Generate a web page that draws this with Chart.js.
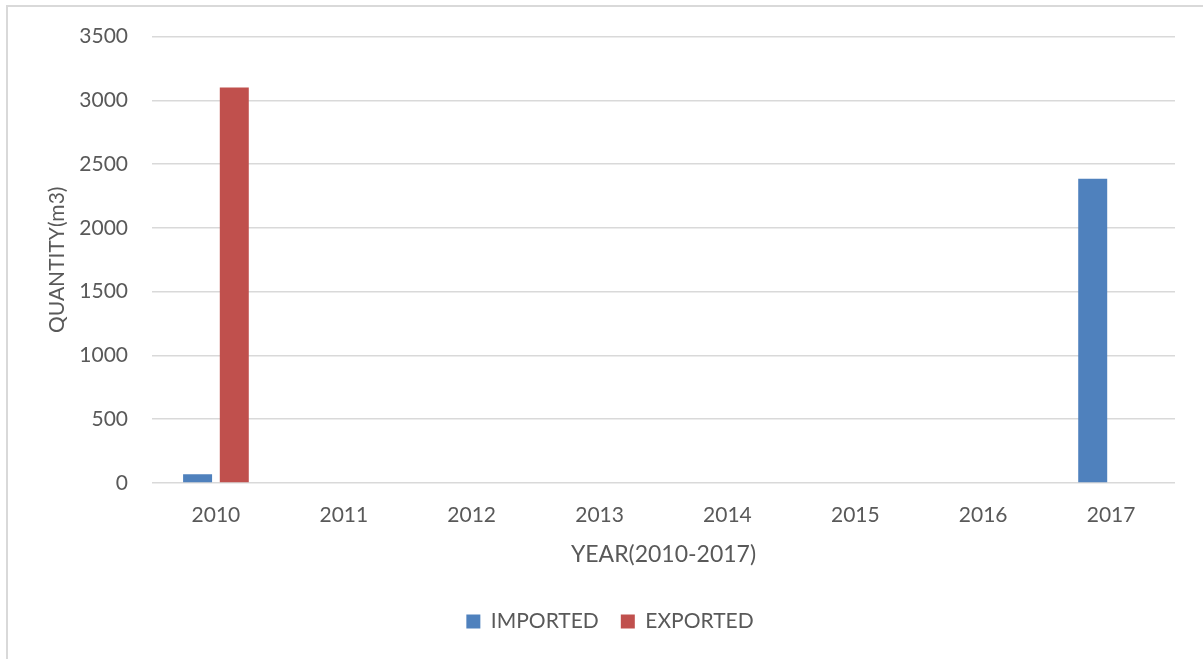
<!DOCTYPE html>
<html>
<head>
<meta charset="utf-8">
<title>Imported and exported quantity 2010-2017</title>
<script src="https://cdn.jsdelivr.net/npm/chart.js@4.4.0/dist/chart.umd.min.js"></script>
<style>
  html, body { margin: 0; padding: 0; background: #ffffff; }
  #wrap { position: relative; width: 1203px; height: 659px; overflow: hidden; }
  #frame {
    position: absolute; left: 6px; top: 5px; width: 1300px; height: 700px;
    border-top: 2px solid #d9d9d9; border-left: 2px solid #d9d9d9;
  }
  #myChart { position: absolute; left: 0; top: 0; }
</style>
</head>
<body>
<div id="wrap">
  <div id="frame"></div>
  <canvas id="myChart" width="1203" height="659"></canvas>
</div>
<script>
(function() {

    const years = ['2010', '2011', '2012', '2013', '2014', '2015', '2016', '2017'];
    const imported = [68, 0, 0, 0, 0, 0, 0, 2385];
    const exported = [3100, 0, 0, 0, 0, 0, 0, 0];

    const yTicks = [0, 500, 1000, 1500, 2000, 2500, 3000, 3500];

    const textColor = '#595959';
    const gridColor = '#d9d9d9';
    const family = 'Lato, "Open Sans", sans-serif';

    const data = {
        labels: years,
        datasets: [{
            label: 'IMPORTED',
            data: imported,
            backgroundColor: '#4f81bd',
            borderWidth: 0,
            categoryPercentage: 0.574,
            barPercentage: 0.79
        }, {
            label: 'EXPORTED',
            data: exported,
            backgroundColor: '#c0504d',
            borderWidth: 0,
            categoryPercentage: 0.574,
            barPercentage: 0.79
        }]
    };

    const myChart = new Chart(
        document.getElementById('myChart'),
        {
            type: 'bar',
            data: data,
            options: {
                responsive: false,
                animation: false,
                layout: {
                    // left padding also pushes the legend centre to the right
                    padding: { left: 45, right: 28, top: 30, bottom: 17 }
                },
                scales: {
                    x: {
                        grid: { display: false, drawTicks: false },
                        border: { display: false },
                        ticks: {
                            color: textColor,
                            font: { family: family, size: 21 },
                            padding: 20,
                            maxRotation: 0
                        },
                        title: {
                            display: true,
                            text: 'YEAR(2010-2017)',
                            color: textColor,
                            font: { family: family, size: 23 },
                            padding: { top: 0, bottom: 21 }
                        },
                        afterFit: function(scale) { scale.height = 106; }
                    },
                    y: {
                        min: 0,
                        max: 3500,
                        grid: {
                            color: gridColor,
                            lineWidth: 1.5,
                            drawTicks: false
                        },
                        border: { display: false },
                        afterBuildTicks: function(scale) {
                            scale.ticks = yTicks.map(function(v) { return { value: v }; });
                        },
                        ticks: {
                            color: textColor,
                            font: { family: family, size: 21 },
                            padding: 24,
                            callback: function(value) { return String(value); }
                        },
                        title: {
                            display: true,
                            text: 'QUANTITY(m3)',
                            color: textColor,
                            font: { family: family, size: 21 },
                            padding: { top: 0, bottom: 0 }
                        },
                        afterFit: function(scale) { scale.width = 107; }
                    }
                },
                plugins: {
                    legend: {
                        position: 'bottom',
                        labels: {
                            color: textColor,
                            font: { family: family, size: 21 },
                            boxWidth: 14,
                            boxHeight: 14,
                            padding: 22
                        }
                    },
                    tooltip: { enabled: false }
                }
            }
        }
    );
})();
</script>
</body>
</html>
